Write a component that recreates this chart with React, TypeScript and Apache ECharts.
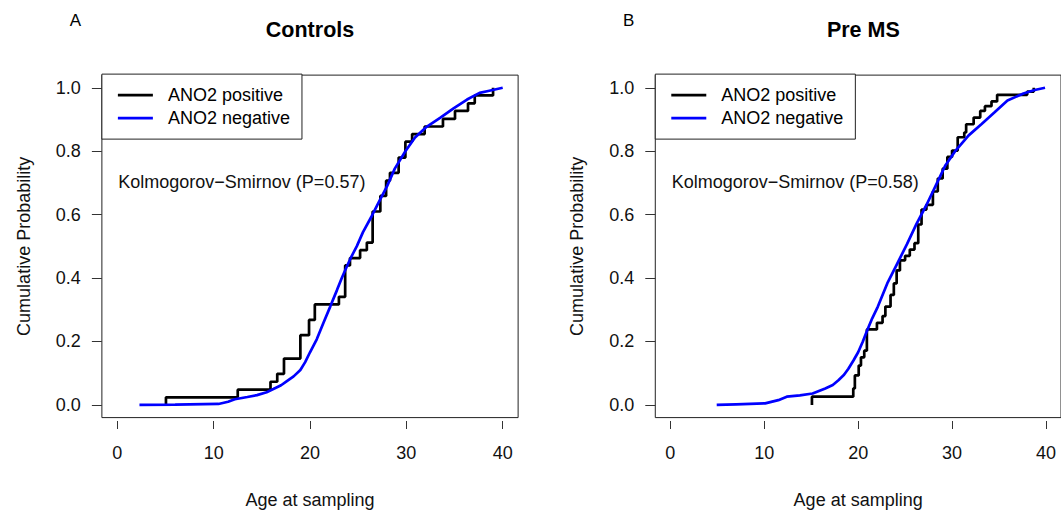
import React, { useEffect, useRef } from "react";
import * as echarts from "echarts";

// ---------- data ----------
const panelTitles = ["Controls", "Pre MS"];
const panelLetters = ["A", "B"];
const ksLabels = ["Kolmogorov\u2212Smirnov (P=0.57)", "Kolmogorov\u2212Smirnov (P=0.58)"];
const seriesNames = ["ANO2 positive", "ANO2 negative"];
const xAxisTitle = "Age at sampling";
const yAxisTitle = "Cumulative Probability";
const xTickValues = [0, 10, 20, 30, 40];
const yTickValues = [0, 0.2, 0.4, 0.6, 0.8, 1.0];

// ECDF jumps (age, cumulative probability after the jump)
const controlsPositive: [number, number][] = [
  [5.05, 0.024], [12.5, 0.048], [15.9, 0.073], [16.6, 0.098], [17.3, 0.146],
  [19.0, 0.22], [19.9, 0.268], [20.5, 0.317], [23.0, 0.341], [23.65, 0.44],
  [24.15, 0.463], [25.2, 0.488], [25.9, 0.512], [26.5, 0.61], [27.3, 0.659],
  [27.9, 0.707], [28.3, 0.732], [29.2, 0.78], [29.9, 0.83], [30.6, 0.854],
  [31.9, 0.878], [33.8, 0.902], [35.05, 0.927], [36.4, 0.951], [37.1, 0.976],
  [39.0, 1.0],
];

const controlsNegative: [number, number][] = [
  [2.3, 0], [6, 0.001], [10.5, 0.003], [11.5, 0.01], [12.2, 0.018], [13.5, 0.025],
  [14.5, 0.031], [15.5, 0.04], [16.2, 0.05], [17.0, 0.062], [17.6, 0.075], [18.3, 0.09],
  [19.0, 0.11], [19.5, 0.135], [20.0, 0.166], [20.7, 0.207], [21.4, 0.259], [22.1, 0.31],
  [22.8, 0.362], [23.3, 0.4], [23.8, 0.435], [24.3, 0.468], [24.85, 0.5], [25.5, 0.545],
  [26.4, 0.595], [27.1, 0.637], [28.0, 0.69], [28.8, 0.745], [29.9, 0.8], [30.9, 0.843],
  [32.1, 0.877], [33.5, 0.905], [34.9, 0.935], [36.3, 0.963], [37.6, 0.984], [38.5, 0.99],
  [40, 1.0],
];

const preMSPositive: [number, number][] = [
  [15.08, 0.026], [19.48, 0.052], [19.65, 0.093], [20.06, 0.124], [20.3, 0.15],
  [20.65, 0.171], [20.93, 0.238], [22.0, 0.259], [22.6, 0.28], [22.9, 0.31],
  [23.45, 0.347], [23.8, 0.383], [24.1, 0.424], [24.45, 0.456], [25.0, 0.47],
  [25.5, 0.49], [26.0, 0.51], [26.4, 0.569], [26.75, 0.616], [27.27, 0.631],
  [27.96, 0.673], [28.48, 0.714], [29.0, 0.745], [29.5, 0.782], [30.0, 0.802],
  [30.6, 0.844], [31.3, 0.859], [31.5, 0.885], [32.3, 0.906], [33.0, 0.927],
  [33.5, 0.942], [34.2, 0.957], [34.8, 0.978], [38.0, 0.988], [38.7, 1.0],
];

const preMSNegative: [number, number][] = [
  [4.94, 0], [7, 0.002], [10.1, 0.005], [11.5, 0.015], [12.4, 0.026], [13.8, 0.03],
  [15.15, 0.036], [16.5, 0.052], [17.3, 0.063], [17.9, 0.078], [18.5, 0.095], [18.96, 0.114],
  [19.5, 0.14], [20.0, 0.166], [20.5, 0.2], [21.0, 0.238], [21.5, 0.273], [22.1, 0.31],
  [23.1, 0.383], [24.15, 0.445], [25.2, 0.507], [26.2, 0.57], [27.3, 0.632], [28.3, 0.694],
  [29.3, 0.756], [30.4, 0.803], [31.77, 0.85], [33.15, 0.886], [34.5, 0.922], [35.9, 0.96],
  [37.6, 0.982], [38.8, 0.993], [39.9, 1.0],
];

const xMin = 0, xMax = 40;
const yMin = 0, yMax = 1;

// ---------- layout ----------
const FONT = '"Liberation Sans", Arial, Helvetica, sans-serif';
// inner (data 0..40 / 0..1) regions of the two panels, in px
const INNER = [
  { left: 117.3, top: 88, width: 385.4, height: 322 },
  { left: 670.7, top: 88, width: 385.3, height: 322 },
];
const PAD = 0.04; // R-style 4% axis extension
const positiveColor = "#000000";
const negativeColor = "#0000ff";
const textColor = "#111";

function ecdfSteps(jumps: [number, number][]) {
  return [[jumps[0][0], 0], ...jumps];
}

function buildOption() {
  const grids = INNER.map((g) => ({
    left: g.left - PAD * g.width,
    top: g.top - PAD * g.height,
    width: g.width * (1 + 2 * PAD),
    height: g.height * (1 + 2 * PAD),
    show: true,
    borderColor: "#222",
    borderWidth: 1,
    backgroundColor: "transparent",
    containLabel: false,
  }));
  const xr = xMax - xMin, yr = yMax - yMin;

  const xAxes: any[] = INNER.map((_, i) => ({
    gridIndex: i,
    type: "value",
    min: xMin - PAD * xr,
    max: xMax + PAD * xr,
    position: "bottom",
    offset: 3.4,
    axisLine: { show: false, onZero: false },
    axisTick: {
      show: true,
      length: 8,
      customValues: xTickValues,
      lineStyle: { color: "#333", width: 1 },
    },
    axisLabel: {
      fontSize: 18,
      color: textColor,
      fontFamily: FONT,
      margin: 23,
      customValues: xTickValues,
    },
    splitLine: { show: false },
    name: xAxisTitle,
    nameLocation: "middle",
    nameGap: 70,
    nameTextStyle: { fontSize: 18, color: textColor, fontFamily: FONT },
  }));
  const yAxes: any[] = INNER.map((_, i) => ({
    gridIndex: i,
    type: "value",
    min: yMin - PAD * yr,
    max: yMax + PAD * yr,
    position: "left",
    axisLine: { show: false, onZero: false },
    axisTick: {
      show: true,
      length: 10,
      customValues: yTickValues,
      lineStyle: { color: "#333", width: 1 },
    },
    axisLabel: {
      fontSize: 18,
      color: textColor,
      fontFamily: FONT,
      margin: 21,
      customValues: yTickValues,
      formatter: (v: number) => v.toFixed(1),
    },
    splitLine: { show: false },
    name: yAxisTitle,
    nameLocation: "middle",
    nameRotate: 90,
    nameGap: 69,
    nameTextStyle: { fontSize: 18, color: textColor, fontFamily: FONT },
  }));

  const panelData = [
    [controlsPositive, controlsNegative],
    [preMSPositive, preMSNegative],
  ];
  const series: any[] = [];
  panelData.forEach(([pos, neg], i) => {
    series.push({
      name: seriesNames[0],
      type: "line",
      xAxisIndex: i,
      yAxisIndex: i,
      data: ecdfSteps(pos),
      step: "end",
      symbol: "none",
      lineStyle: { color: positiveColor, width: 2.7 },
      itemStyle: { color: positiveColor },
      z: 3,
    });
    series.push({
      name: seriesNames[1],
      type: "line",
      xAxisIndex: i,
      yAxisIndex: i,
      data: neg,
      symbol: "none",
      lineStyle: { color: negativeColor, width: 2.7 },
      itemStyle: { color: negativeColor },
      z: 4,
    });
  });

  const legends = grids.map((g) => ({
    left: g.left,
    top: g.top - 1,
    orient: "vertical",
    data: seriesNames,
    icon: "rect",
    padding: [12, 12, 12, 16],
    itemGap: 5,
    itemWidth: 35,
    itemHeight: 2.8,
    borderColor: "#222",
    borderWidth: 1,
    borderRadius: 0,
    backgroundColor: "#fff",
    selectedMode: false,
    textStyle: { fontSize: 18, fontFamily: FONT, color: "#000", padding: [0, 0, 0, 10] },
    z: 6,
  }));

  const graphics: any[] = [];
  INNER.forEach((g, i) => {
    graphics.push({
      type: "text",
      x: g.left + g.width / 2,
      y: 29.5,
      style: {
        text: panelTitles[i],
        font: `bold 21.5px ${FONT}`,
        fill: "#000",
        align: "center",
        verticalAlign: "middle",
      },
    });
    graphics.push({
      type: "text",
      x: g.left - 42,
      y: 20,
      style: {
        text: panelLetters[i],
        font: `17px ${FONT}`,
        fill: "#000",
        align: "center",
        verticalAlign: "middle",
      },
    });
    graphics.push({
      type: "text",
      x: g.left + 1,
      y: 182,
      style: {
        text: ksLabels[i],
        font: `18px ${FONT}`,
        fill: textColor,
        align: "left",
        verticalAlign: "middle",
      },
    });
  });

  return {
    animation: false,
    backgroundColor: "#fff",
    grid: grids,
    xAxis: xAxes,
    yAxis: yAxes,
    legend: legends,
    series,
    graphic: graphics,
  };
}

export default function App() {
  const ref = useRef<HTMLDivElement>(null);
  useEffect(() => {
    document.body.style.margin = "0";
    const chart = echarts.init(ref.current as HTMLDivElement, null, { renderer: "svg" });
    chart.setOption(buildOption() as any);
    return () => chart.dispose();
  }, []);
  return <div ref={ref} style={{ width: 1061, height: 514 }} />;
}
